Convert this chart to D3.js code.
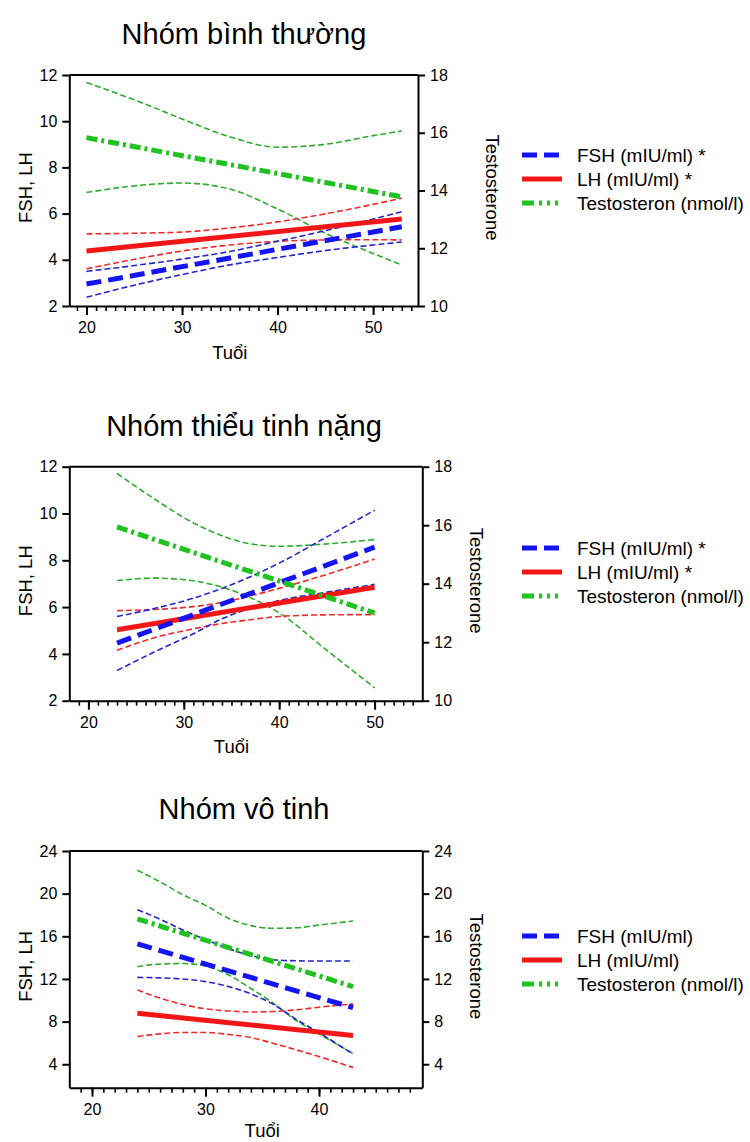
<!DOCTYPE html>
<html>
<head>
<meta charset="utf-8">
<script src="https://cdn.jsdelivr.net/npm/d3@7"></script>
<style>
  body { margin: 0; background: #fff; }
  svg { font-family: "Liberation Sans", Arial, Helvetica, sans-serif; }
  .domain { stroke: #000; stroke-width: 2; }
  .tick line { stroke: #000; stroke-width: 2; }
  .minor .tick line { stroke-width: 1.6; }
  .tick text { font-size: 16px; fill: #000; }
</style>
</head>
<body>
<svg id="chart" width="750" height="1142"></svg>
<script>
// ---------------------------------------------
// data
// ---------------------------------------------
const titles = ['Nhóm bình thường', 'Nhóm thiểu tinh nặng', 'Nhóm vô tinh'];
const legendStar = ['FSH (mIU/ml) *', 'LH (mIU/ml) *', 'Testosteron (nmol/l)'];
const legendPlain = ['FSH (mIU/ml)', 'LH (mIU/ml)', 'Testosteron (nmol/l)'];

const xTicksA = [20, 30, 40, 50];
const xTicksB = [20, 30, 40];
const leftTicksA = [2, 4, 6, 8, 10, 12];
const rightTicksA = [10, 12, 14, 16, 18];
const ticksB = [4, 8, 12, 16, 20, 24];

// panel 1 : Nhóm bình thường
const fitAge1 = [20, 53];
const fshFit1 = [2.95, 5.43];
const lhFit1 = [4.38, 5.77];
const testoFit1 = [15.83, 13.78];
const ciAge1 = [20, 25, 30, 35, 40, 45, 50, 53];
const fshUp1 = [3.50, 3.75, 4.03, 4.36, 4.80, 5.26, 5.76, 6.08];
const fshLo1 = [2.38, 2.90, 3.36, 3.78, 4.10, 4.40, 4.64, 4.77];
const lhUp1 = [5.12, 5.15, 5.20, 5.38, 5.64, 5.99, 6.40, 6.67];
const lhLo1 = [3.61, 4.02, 4.38, 4.64, 4.80, 4.86, 4.87, 4.86];
const testoUp1 = [17.74, 17.14, 16.48, 15.86, 15.50, 15.60, 15.90, 16.06];
const testoLo1 = [13.93, 14.16, 14.26, 14.05, 13.36, 12.52, 11.82, 11.42];

// panel 2 : Nhóm thiểu tinh nặng
const fitAge2 = [23, 50];
const fshFit2 = [4.46, 8.56];
const lhFit2 = [5.03, 6.85];
const testoFit2 = [15.94, 13.0];
const ciAge2 = [23, 27, 31, 34, 37, 40, 45, 50];
const fshUp2 = [5.60, 5.95, 6.38, 6.80, 7.30, 7.88, 9.00, 10.14];
const fshLo2 = [3.29, 4.10, 4.86, 5.50, 5.95, 6.28, 6.64, 6.97];
const lhUp2 = [5.85, 5.90, 6.02, 6.20, 6.48, 6.80, 7.40, 8.05];
const lhLo2 = [4.15, 4.70, 5.07, 5.30, 5.46, 5.60, 5.67, 5.68];
const testoUp2 = [17.77, 16.88, 16.08, 15.64, 15.36, 15.28, 15.36, 15.51];
const testoLo2 = [14.11, 14.19, 14.10, 13.88, 13.52, 13.00, 11.72, 10.44];

// panel 3 : Nhóm vô tinh
const fitAge3 = [24, 43];
const fshFit3 = [15.28, 9.31];
const lhFit3 = [8.78, 6.69];
const testoFit3 = [17.63, 11.28];
const ciAge3 = [24, 26, 28, 30, 32, 34, 36, 38, 40, 43];
const fshUp3 = [18.5, 17.6, 16.6, 15.7, 14.85, 14.2, 13.8, 13.7, 13.68, 13.68];
const fshLo3 = [12.15, 12.1, 12.0, 11.75, 11.3, 10.6, 9.6, 8.2, 6.95, 4.95];
const lhUp3 = [10.97, 10.2, 9.6, 9.2, 9.0, 8.9, 8.95, 9.1, 9.35, 9.66];
const lhLo3 = [6.6, 6.85, 6.98, 6.98, 6.8, 6.5, 5.95, 5.35, 4.72, 3.69];
const testoUp3 = [22.2, 21.1, 19.9, 18.9, 17.7, 17.0, 16.75, 16.8, 17.05, 17.44];
const testoLo3 = [13.15, 13.4, 13.45, 13.2, 12.4, 11.1, 9.7, 8.1, 6.85, 5.0];

// ---------------------------------------------
// styles
// ---------------------------------------------
const BLUE = '#1414f2', BLUE_CI = '#2626cc';
const RED = '#f21616', RED_CI = '#ee2a2a';
const GREEN = '#1fc21f', GREEN_CI = '#2eab2e';
const FIT_W = 5, CI_W = 1.6;
const dashFsh = '15,7', dashTesto = '11,4,3,4', dashCI = '6,3';

const zip = (a, b) => a.map((v, i) => [v, b[i]]);

const panels = [
  { title: titles[0], legend: legendStar,
    left: 69.3, right: 418, top: 75, bottom: 306,
    xDom: [18.2, 54.7], yDom: [2, 12], y2Dom: [10, 18],
    xTicks: xTicksA, yTicks: leftTicksA, y2Ticks: rightTicksA, xMinorTo: 54,
    titleY: 44, testoX: 492, legendY: 155, xLabY: 53,
    fitAge: fitAge1, fsh: fshFit1, lh: lhFit1, testo: testoFit1,
    ciAge: ciAge1, fshUp: fshUp1, fshLo: fshLo1, lhUp: lhUp1, lhLo: lhLo1,
    testoUp: testoUp1, testoLo: testoLo1 },
  { title: titles[1], legend: legendStar,
    left: 69.3, right: 422.3, top: 466.7, bottom: 700.7,
    xDom: [18, 55], yDom: [2, 12], y2Dom: [10, 18],
    xTicks: xTicksA, yTicks: leftTicksA, y2Ticks: rightTicksA, xMinorTo: 54,
    titleY: 436, testoX: 476, legendY: 548, xLabY: 52,
    fitAge: fitAge2, fsh: fshFit2, lh: lhFit2, testo: testoFit2,
    ciAge: ciAge2, fshUp: fshUp2, fshLo: fshLo2, lhUp: lhUp2, lhLo: lhLo2,
    testoUp: testoUp2, testoLo: testoLo2 },
  { title: titles[2], legend: legendPlain,
    left: 69.3, right: 422.3, top: 851, bottom: 1087.7,
    xDom: [18, 49.1], yDom: [1.8, 24], y2Dom: [1.8, 24],
    xTicks: xTicksB, yTicks: ticksB, y2Ticks: ticksB, xMinorTo: 48,
    titleY: 819, testoX: 476, legendY: 936, xLabY: 49,
    fitAge: fitAge3, fsh: fshFit3, lh: lhFit3, testo: testoFit3,
    ciAge: ciAge3, fshUp: fshUp3, fshLo: fshLo3, lhUp: lhUp3, lhLo: lhLo3,
    testoUp: testoUp3, testoLo: testoLo3 }
];

const svg = d3.select('#chart');

function drawPanel(p) {
  const g = svg.append('g');
  const x = d3.scaleLinear().domain(p.xDom).range([p.left, p.right]);
  const y = d3.scaleLinear().domain(p.yDom).range([p.bottom, p.top]);
  const y2 = d3.scaleLinear().domain(p.y2Dom).range([p.bottom, p.top]);

  // title
  g.append('text')
    .attr('x', 244)
    .attr('y', p.titleY)
    .attr('text-anchor', 'middle')
    .style('font-size', '29px')
    .text(p.title);

  // frame top
  g.append('line')
    .attr('x1', p.left).attr('x2', p.right)
    .attr('y1', p.top).attr('y2', p.top)
    .attr('stroke', '#000').attr('stroke-width', 2);

  // minor ticks on x
  g.append('g')
    .attr('class', 'minor')
    .attr('transform', `translate(0,${p.bottom})`)
    .call(d3.axisBottom(x).tickValues(d3.range(19, p.xMinorTo + 1)).tickSize(5).tickSizeOuter(0).tickFormat(''))
    .select('.domain').remove();

  g.append('g')
    .attr('transform', `translate(0,${p.bottom})`)
    .call(d3.axisBottom(x).tickValues(p.xTicks).tickSize(9).tickSizeOuter(0).tickPadding(7));

  g.append('g')
    .attr('transform', `translate(${p.left},0)`)
    .call(d3.axisLeft(y).tickValues(p.yTicks).tickSize(7).tickSizeOuter(0).tickPadding(5));

  g.append('g')
    .attr('transform', `translate(${p.right},0)`)
    .call(d3.axisRight(y2).tickValues(p.y2Ticks).tickSize(7).tickSizeOuter(0).tickPadding(5));

  // axis titles
  const midY = (p.top + p.bottom) / 2;
  g.append('text')
    .attr('transform', `translate(25,${midY - 3}) rotate(-90)`)
    .attr('text-anchor', 'middle')
    .attr('dominant-baseline', 'central')
    .style('font-size', '18.5px')
    .text('FSH, LH');

  g.append('text')
    .attr('transform', `translate(${p.testoX},${midY - 3}) rotate(90)`)
    .attr('text-anchor', 'middle')
    .attr('dominant-baseline', 'central')
    .style('font-size', '18.5px')
    .text('Testosterone');

  g.append('text')
    .attr('x', x(p.xTicks[0]) + (x(50) - x(20)) / 2)
    .attr('y', p.bottom + p.xLabY)
    .attr('text-anchor', 'middle')
    .style('font-size', '18.5px')
    .text('Tuổi');

  // confidence bands (thin dashed) then fits
  const lineL = d3.line().x(d => x(d[0])).y(d => y(d[1])).curve(d3.curveMonotoneX);
  const lineR = d3.line().x(d => x(d[0])).y(d => y2(d[1])).curve(d3.curveMonotoneX);

  const ci = [
    { d: lineR(zip(p.ciAge, p.testoUp)), c: GREEN_CI },
    { d: lineR(zip(p.ciAge, p.testoLo)), c: GREEN_CI },
    { d: lineL(zip(p.ciAge, p.lhUp)), c: RED_CI },
    { d: lineL(zip(p.ciAge, p.lhLo)), c: RED_CI },
    { d: lineL(zip(p.ciAge, p.fshUp)), c: BLUE_CI },
    { d: lineL(zip(p.ciAge, p.fshLo)), c: BLUE_CI }
  ];
  g.append('g').selectAll('path')
    .data(ci)
    .enter().append('path')
      .attr('d', d => d.d)
      .attr('fill', 'none')
      .attr('stroke', d => d.c)
      .attr('stroke-width', CI_W)
      .attr('stroke-dasharray', dashCI);

  const fits = [
    { d: lineL(zip(p.fitAge, p.lh)), c: RED, dash: null },
    { d: lineL(zip(p.fitAge, p.fsh)), c: BLUE, dash: dashFsh },
    { d: lineR(zip(p.fitAge, p.testo)), c: GREEN, dash: dashTesto }
  ];
  g.append('g').selectAll('path')
    .data(fits)
    .enter().append('path')
      .attr('d', d => d.d)
      .attr('fill', 'none')
      .attr('stroke', d => d.c)
      .attr('stroke-width', FIT_W)
      .attr('stroke-dasharray', d => d.dash);

  // legend
  const legDash = [dashFsh, null, '12,5,3,5,3,5,3,10'];
  const legCol = [BLUE, RED, GREEN];
  const leg = g.append('g')
    .selectAll('g')
    .data(p.legend)
    .enter().append('g')
      .attr('transform', (d, i) => `translate(522,${p.legendY + i * 24})`);
  leg.append('line')
    .attr('x1', 0).attr('x2', 40)
    .attr('stroke', (d, i) => legCol[i])
    .attr('stroke-width', FIT_W)
    .attr('stroke-dasharray', (d, i) => legDash[i]);
  leg.append('text')
    .attr('x', 55)
    .attr('dominant-baseline', 'central')
    .style('font-size', '19px')
    .text(d => d);
}

panels.forEach(drawPanel);
</script>
</body>
</html>
